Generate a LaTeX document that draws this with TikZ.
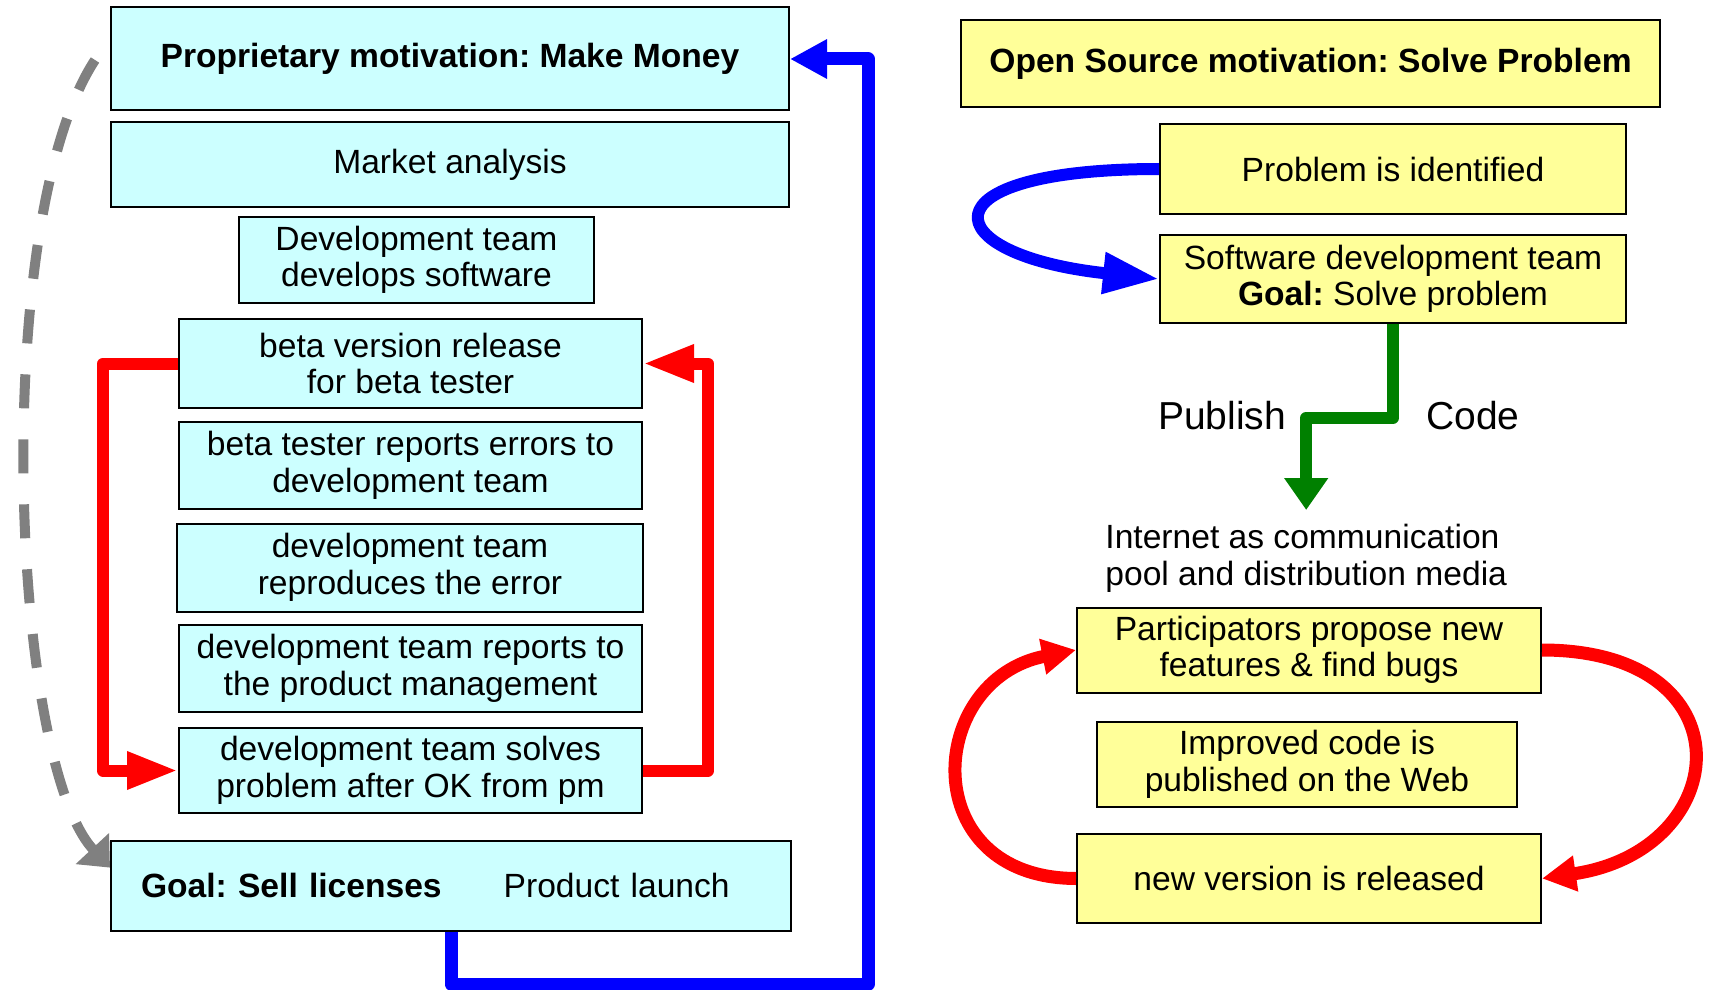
\documentclass[tikz,border=0pt]{standalone}
\usepackage{fontspec}
\setmainfont{Liberation Sans}
\usetikzlibrary{arrows.meta}
\definecolor{cyanbox}{RGB}{204,255,255}
\definecolor{yellowbox}{RGB}{255,255,153}
\definecolor{dgreen}{RGB}{0,128,0}
\frenchspacing

\begin{document}
\begin{tikzpicture}[x=0.5pt,y=-0.5pt,
        every node/.style={font=\fontsize{16.8}{18.2}\selectfont},
        lbox/.style={draw,line width=1pt,fill=cyanbox,align=center,inner sep=0pt},
        rbox/.style={draw,line width=1pt,fill=yellowbox,align=center,inner sep=0pt},
        blueline/.style={draw=blue,line width=6.5pt,line join=round},
        redline/.style={draw=red,line width=6pt,line join=round},
        bigtext/.style={font=\fontsize{19.5}{22}\selectfont,inner sep=0pt}]
        \useasboundingbox (0,0) rectangle (1709,990);
        % left: proprietary
        \node[lbox,minimum width=339pt,minimum height=51.5pt,font=\bfseries\fontsize{16.8}{18.2}\selectfont] (pm) at (450,59) {Proprietary motivation: Make Money};
        \node[lbox,minimum width=339pt,minimum height=42.3pt] (market) at (450,164.5) {Market analysis};
        \node[lbox,minimum width=177.3pt,minimum height=43pt] (devsw) at (416.5,260) {Development team\\develops software};
        \node[lbox,minimum width=231.5pt,minimum height=44.5pt] (beta) at (410.5,363.5) {beta version release\\for beta tester};
        \node[lbox,minimum width=231.5pt,minimum height=43.5pt] (bterr) at (410.5,465.5) {beta tester reports errors to\\development team};
        \node[lbox,minimum width=233pt,minimum height=44pt] (repro) at (410,567.5) {development team\\reproduces the error};
        \node[lbox,minimum width=231.5pt,minimum height=43.5pt] (pmrep) at (410.5,668.5) {development team reports to\\the product management};
        \node[lbox,minimum width=231.5pt,minimum height=42.5pt] (solves) at (410.5,770.5) {development team solves\\problem after OK from pm};
        \node[lbox,text width=310pt,inner xsep=15pt,minimum height=45pt,align=left] (goal) at (451,885.5) {\textbf{Goal: Sell licenses}\hspace{31pt}Product launch};

        \coordinate (bcorner) at (868,984);
        \draw[blueline,-{Triangle[length=18.5pt,width=18.5pt]}] (goal.south) |- (bcorner) |- (pm.east);
        \coordinate (rleft) at (103,560);
        \coordinate (rright) at (708,560);
        \draw[redline,-{Triangle[length=25.5pt,width=17.5pt]}] (beta.west) -| (rleft) |- (solves.west);
        \draw[redline,-{Triangle[length=25.5pt,width=17.5pt]}] (solves.east) -| (rright) |- (beta.east);
        \coordinate (gstart) at (95,60);
        \draw[gray,line width=5pt,dash pattern=on 17pt off 15.5pt,-{Triangle[length=13pt,width=22pt]}] (gstart) .. controls (-10,220) and (10,760) .. (goal.177);

        % right: open source
        \node[rbox,minimum width=349.5pt,minimum height=43.5pt,font=\bfseries\fontsize{16.8}{18.2}\selectfont] (os) at (1310.5,63.5) {Open Source motivation: Solve Problem};
        \node[rbox,minimum width=233pt,minimum height=45pt] (ident) at (1393,169) {Problem is identified};
        \node[rbox,minimum width=233pt,minimum height=44pt] (team) at (1393,279) {Software development team\\\textbf{Goal:} Solve problem};
        \node[anchor=north west,align=left,inner xsep=0pt,inner ysep=7pt] (net) at (1105,510) {Internet as communication\\pool and distribution media};
        \node[rbox,minimum width=232pt,minimum height=42.5pt] (part) at (1309,650) {Participators propose new\\features \& find bugs};
        \node[rbox,minimum width=210pt,minimum height=42.5pt] (improved) at (1307,764.5) {Improved code is\\published on the Web};
        \node[rbox,minimum width=232pt,minimum height=44.5pt] (newver) at (1309,878.5) {new version is released};
        \node[bigtext] (pub) at (1222,416) {Publish};
        \node[bigtext] (code) at (1473,416) {Code};

        \draw[blueline,line width=6pt,-{Triangle[length=28pt,width=19.5pt]}] (ident.west) .. controls (918,169) and (935,255) .. (team.west);
        \draw[draw=dgreen,line width=6pt,line join=round,-{Triangle[length=16pt,width=21pt]}] (team.south) -- ++(0,94) -| (net.north);
        \draw[redline,line width=6.5pt,-{Triangle[length=17pt,width=17pt]}] (newver.west) .. controls (915,878) and (925,680) .. (part.west);
        \draw[redline,line width=6.5pt,-{Triangle[length=17pt,width=17pt]}] (part.east) .. controls (1750,650) and (1735,850) .. (newver.east);
    \end{tikzpicture}
\end{document}
